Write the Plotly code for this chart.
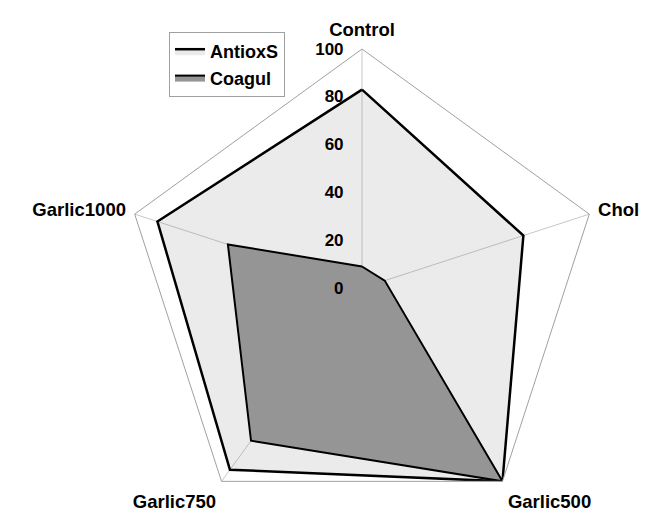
import plotly.graph_objects as go

categories = ["Control", "Chol", "Garlic500", "Garlic750", "Garlic1000"]
antiox_s = [83, 71, 100, 94, 90]
coagul = [9, 10, 100, 79, 59]
radial_ticks = [0, 20, 40, 60, 80, 100]

FONT = "Liberation Sans, Arial, sans-serif"
W, H = 667, 519


def closed(values):
    return values + values[:1]


fig = go.Figure()
fig.add_trace(go.Scatterpolar(
    r=closed(antiox_s), theta=closed(categories), name="AntioxS",
    mode="lines", fill="toself",
    line=dict(color="black", width=2.5),
    fillcolor="rgba(120,120,120,0.15)",
))
fig.add_trace(go.Scatterpolar(
    r=closed(coagul), theta=closed(categories), name="Coagul",
    mode="lines", fill="toself",
    line=dict(color="black", width=2),
    fillcolor="#959595",
))

cx, cy, R = 354, 280, 239  # figure-pixel centre and radius of the polar area

fig.update_layout(
    width=W, height=H,
    margin=dict(l=0, r=0, t=0, b=0),
    paper_bgcolor="white",
    font=dict(family=FONT, size=17, color="black", weight="bold"),
    polar=dict(
        domain=dict(x=[(cx - R) / W, (cx + R) / W],
                    y=[max(0, (H - cy - R) / H), (H - cy + R) / H]),
        bgcolor="white",
        gridshape="linear",
        angularaxis=dict(
            direction="clockwise", rotation=90,
            showline=True, linecolor="#a0a0a0", linewidth=1,
            showgrid=True, gridcolor="#c8c8c8", gridwidth=1,
            ticks="outside", ticklen=5, tickcolor="rgba(0,0,0,0)",
            tickfont=dict(family=FONT, size=18.5, weight="bold"),
        ),
        radialaxis=dict(
            angle=90, range=[0, 100], tickvals=radial_ticks,
            showgrid=False, showline=False,
            ticks="outside", ticklen=12, tickcolor="rgba(0,0,0,0)",
            side="counterclockwise", tickangle=90,
            tickfont=dict(family=FONT, size=17, weight="bold"),
        ),
    ),
    legend=dict(
        x=161 / W, y=1 - 24 / H, xanchor="left", yanchor="top",
        bordercolor="#a0a0a0", borderwidth=1, bgcolor="white",
        font=dict(family=FONT, size=18, weight="bold"),
        itemwidth=30, tracegroupgap=2,
    ),
    showlegend=True,
)

fig.write_html("out.html")
